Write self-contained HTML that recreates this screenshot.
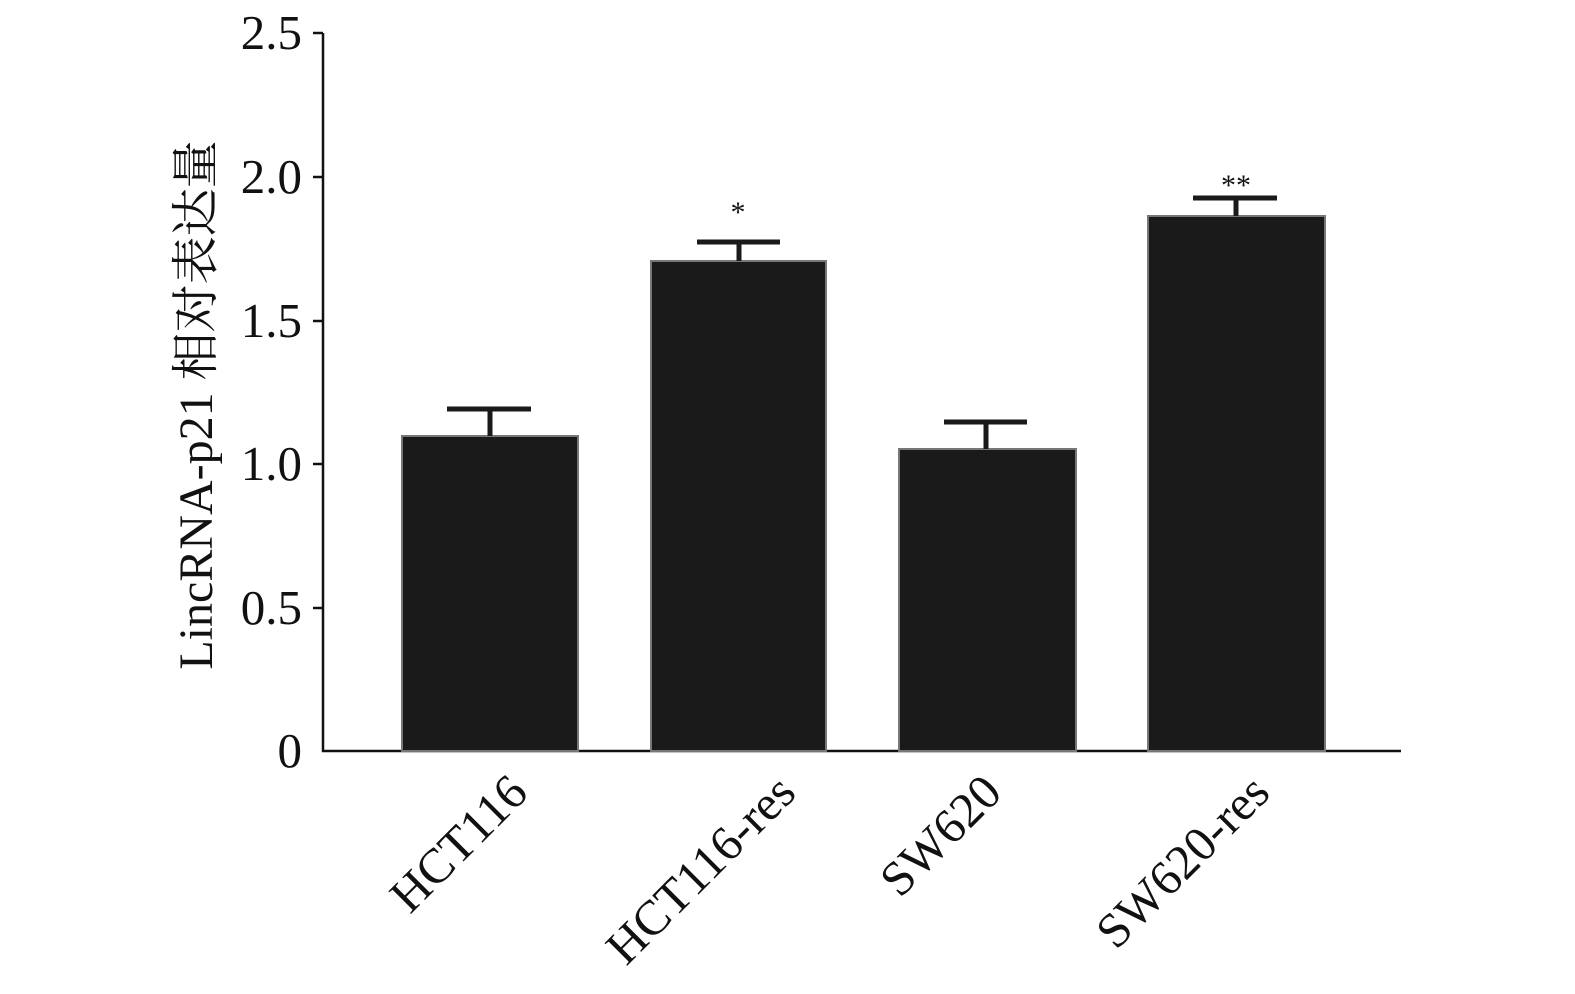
<!DOCTYPE html>
<html><head><meta charset="utf-8"><style>
html,body{margin:0;padding:0;background:#fff;}
svg{display:block;}
text{font-family:"Liberation Serif","Noto Serif CJK SC","Noto Sans CJK SC",serif;fill:#111;}
</style></head><body>
<svg width="1575" height="994" viewBox="0 0 1575 994" xmlns="http://www.w3.org/2000/svg">
<g stroke="#111" stroke-width="2.5" fill="none">
<line x1="323" y1="33" x2="323" y2="752"/>
<line x1="322" y1="751" x2="1401" y2="751"/>
<line x1="313" y1="33" x2="323" y2="33"/>
<line x1="313" y1="177" x2="323" y2="177"/>
<line x1="313" y1="321" x2="323" y2="321"/>
<line x1="313" y1="464" x2="323" y2="464"/>
<line x1="313" y1="608" x2="323" y2="608"/>
</g>
<g font-size="49" text-anchor="end">
<text x="302" y="49">2.5</text>
<text x="302" y="193">2.0</text>
<text x="302" y="337">1.5</text>
<text x="302" y="480">1.0</text>
<text x="302" y="624">0.5</text>
<text x="302" y="767">0</text>
</g>
<text font-size="48" text-anchor="middle" transform="translate(212,405) rotate(-90)">LincRNA-p21 相对表达量</text>
<g fill="#1a1a1a" stroke="#777" stroke-width="2">
<rect x="402" y="436" width="176" height="315"/>
<rect x="651" y="261" width="175" height="490"/>
<rect x="899" y="449" width="177" height="302"/>
<rect x="1148" y="216" width="177" height="535"/>
</g>
<g stroke="#1a1a1a" stroke-width="5">
<line x1="490" y1="409" x2="490" y2="436"/><line x1="447" y1="409" x2="531" y2="409"/>
<line x1="739" y1="242" x2="739" y2="261"/><line x1="697" y1="242" x2="780" y2="242"/>
<line x1="986" y1="422" x2="986" y2="449"/><line x1="944" y1="422" x2="1027" y2="422"/>
<line x1="1236" y1="198" x2="1236" y2="216"/><line x1="1193" y1="198" x2="1277" y2="198"/>
</g>
<g font-size="30" text-anchor="middle">
<text x="738" y="222">*</text>
<text x="1236" y="195">**</text>
</g>
<g font-size="49" text-anchor="end">
<text transform="translate(530,795) rotate(-45)">HCT116</text>
<text transform="translate(798,795) rotate(-45)">HCT116-res</text>
<text transform="translate(1004,795) rotate(-45)">SW620</text>
<text transform="translate(1272,795) rotate(-45)">SW620-res</text>
</g>
</svg>
</body></html>
